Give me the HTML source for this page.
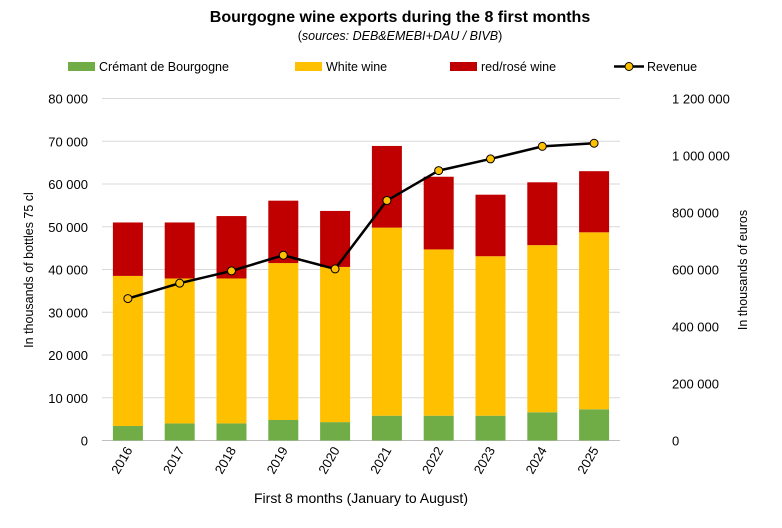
<!DOCTYPE html>
<html><head><meta charset="utf-8"><style>
body{margin:0;background:#fff;font-family:"Liberation Sans",sans-serif}
svg text{font-family:"Liberation Sans",sans-serif;fill:#000}
</style></head><body>
<svg id="c" width="782" height="523" xmlns="http://www.w3.org/2000/svg">
<text x="400" y="22" text-anchor="middle" font-size="16" font-weight="bold">Bourgogne wine exports during the 8 first months</text>
<text x="400" y="40" text-anchor="middle" font-size="12.5">(<tspan font-style="italic">sources: DEB&amp;EMEBI+DAU / BIVB</tspan>)</text>
<g>
<rect x="68" y="62" width="27" height="9" fill="#70ad47"/>
<text x="99" y="71" font-size="12.5">Crémant de Bourgogne</text>
<rect x="295" y="62" width="27" height="9" fill="#ffc000"/>
<text x="326" y="71" font-size="12.5">White wine</text>
<rect x="450" y="62" width="27" height="9" fill="#c00000"/>
<text x="481" y="71" font-size="12.5">red/rosé wine</text>
<line x1="614" y1="66.5" x2="644" y2="66.5" stroke="#000" stroke-width="2.5"/>
<circle cx="629" cy="66.5" r="4" fill="#ffc000" stroke="#000"/>
<text x="647" y="71" font-size="12.5">Revenue</text>
</g>
<text transform="translate(33,270) rotate(-90)" text-anchor="middle" font-size="12.5">In thousands of bottles  75 cl</text>
<text transform="translate(747,270) rotate(-90)" text-anchor="middle" font-size="12.5">In thousands of euros</text>
<text x="361" y="503" text-anchor="middle" font-size="14">First 8 months (January to August)</text>
<g id="grid"></g><g id="bars"></g><g id="line"></g><g id="ticks"></g>
</svg>
<script>
const years=["2016","2017","2018","2019","2020","2021","2022","2023","2024","2025"];
const cremant=[3400,4000,4000,4800,4300,5800,5800,5800,6600,7300];
const white=[35100,33900,33900,36700,36300,44000,38900,37300,39100,41400];
const red=[12500,13100,14600,14600,13100,19100,17000,14400,14700,14300];
const revenue=[498000,552000,595000,650000,602000,842000,947000,988000,1032000,1043000];
const leftTicks=[0,10000,20000,30000,40000,50000,60000,70000,80000];
const rightTicks=[0,200000,400000,600000,800000,1000000,1200000];
const NS="http://www.w3.org/2000/svg";
const X0=102,X1=620,Y0=440.5,Y1=98.5;
const yL=v=>Y0-(v/80000)*(Y0-Y1);
const yR=v=>Y0-(v/1200000)*(Y0-Y1);
const band=(X1-X0)/years.length;
const xC=i=>X0+band*(i+0.5);
const fmt=v=>String(v).replace(/\B(?=(\d{3})+(?!\d))/g,"\u00a0");
function mk(t,a,p){const e=document.createElementNS(NS,t);for(const k in a)e.setAttribute(k,a[k]);p.appendChild(e);return e;}
const g=document.getElementById('grid'),b=document.getElementById('bars'),l=document.getElementById('line'),tk=document.getElementById('ticks');
leftTicks.forEach(v=>{
 const ln=mk('line',{x1:X0,x2:X1,y1:yL(v),y2:yL(v),stroke:v===0?'#bfbfbf':'#d9d9d9','stroke-width':1},g);
 
 
 const t=mk('text',{x:88,y:yL(v)+5,'text-anchor':'end','font-size':13},tk);t.textContent=fmt(v);
 
 
});
rightTicks.forEach(v=>{
 const t=mk('text',{x:672,y:yR(v)+5,'text-anchor':'start','font-size':13},tk);t.textContent=fmt(v);
 
 
});
const bw=30;
years.forEach((yr,i)=>{
 let base=0;
 [[cremant,'#70ad47','bar-cremant'],[white,'#ffc000','bar-white'],[red,'#c00000','bar-red']].forEach(([arr,c,n])=>{
  const r=mk('rect',{x:xC(i)-bw/2,y:yL(base+arr[i]),width:bw,height:yL(base)-yL(base+arr[i]),fill:c},b);
  
  
  base+=arr[i];
 });
 const t=mk('text',{transform:`translate(${xC(i)+5},${450}) rotate(-60)`,'text-anchor':'end','font-size':13},tk);t.textContent=yr;
 
 
});
const pl=mk('polyline',{points:revenue.map((v,i)=>xC(i)+','+yR(v)).join(' '),fill:'none',stroke:'#000','stroke-width':2.5},l);


revenue.forEach((v,i)=>{
 const c=mk('circle',{cx:xC(i),cy:yR(v),r:4,fill:'#ffc000',stroke:'#000','stroke-width':1},l);
 
 
});
</script>
</body></html>
